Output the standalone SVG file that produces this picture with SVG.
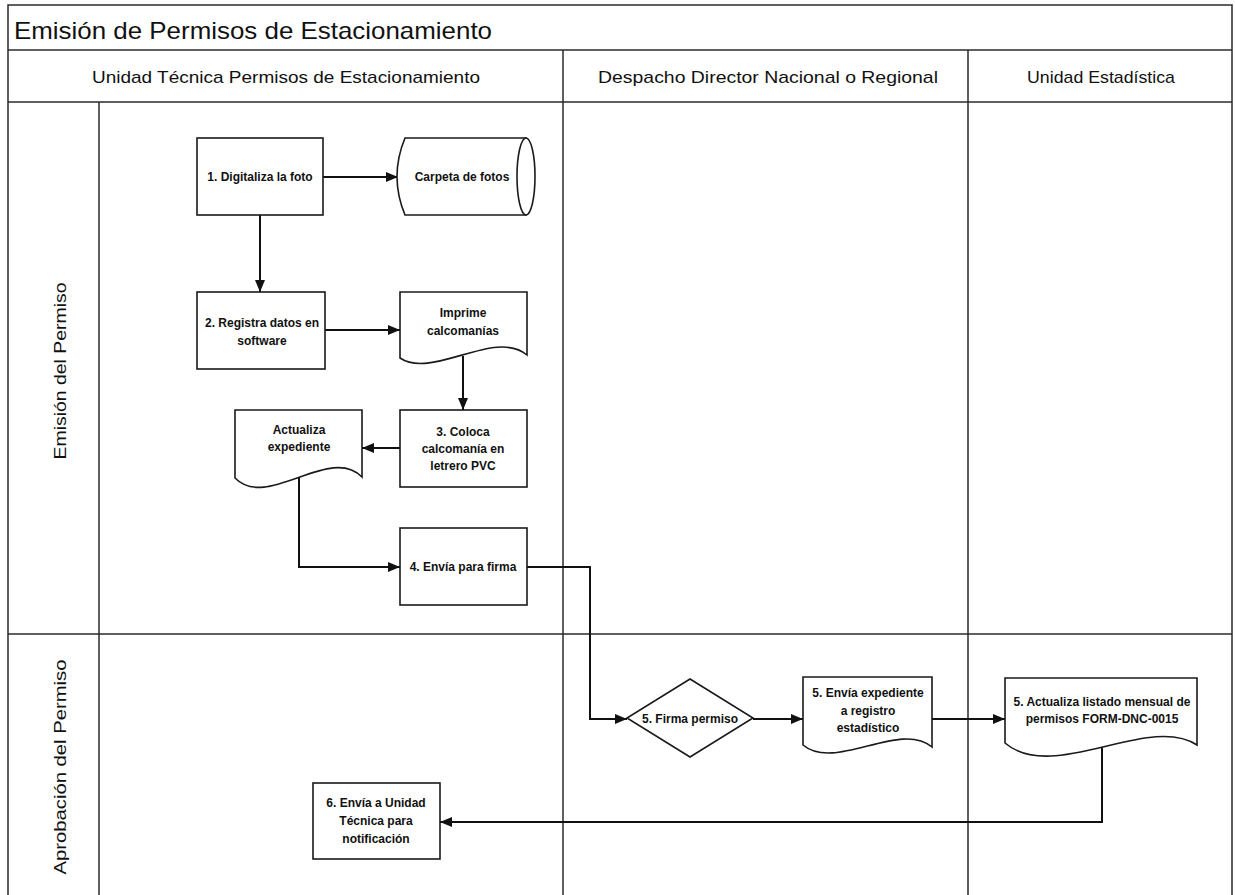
<svg xmlns="http://www.w3.org/2000/svg" width="1235" height="895" viewBox="0 0 1235 895">
<style>
.frame{fill:none;stroke:#2a2a2a;stroke-width:1.5}
.shape{fill:#fff;stroke:#1a1a1a;stroke-width:1.6}
.conn{fill:none;stroke:#111;stroke-width:2}
.t{font-family:"Liberation Sans",Arial,sans-serif;font-size:12px;font-weight:bold;fill:#111;text-anchor:middle}
.hdr{font-family:"Liberation Sans",Arial,sans-serif;font-size:17px;fill:#111;text-anchor:middle}
.lane{font-family:"Liberation Sans",Arial,sans-serif;font-size:16px;fill:#111;text-anchor:middle}
</style>
<defs>
<marker id="arr" markerUnits="userSpaceOnUse" markerWidth="12" markerHeight="10" refX="12" refY="5" orient="auto">
<path d="M0,0 L12,5 L0,10 Z" fill="#111"/>
</marker>
</defs>
<rect width="1235" height="895" fill="#fff"/>
<g id="pool">
<rect class="frame" x="8" y="5" width="1224" height="900"/>
<line class="frame" x1="8" y1="50" x2="1232" y2="50"/>
<line class="frame" x1="8" y1="102" x2="1232" y2="102"/>
<line class="frame" x1="563" y1="50" x2="563" y2="895"/>
<line class="frame" x1="968" y1="50" x2="968" y2="895"/>
<line class="frame" x1="99" y1="102" x2="99" y2="895"/>
<line class="frame" x1="8" y1="634" x2="1232" y2="634"/>
<text x="14" y="39" font-family="Liberation Sans,Arial,sans-serif" font-size="24" fill="#111" textLength="478" lengthAdjust="spacingAndGlyphs">Emisión de Permisos de Estacionamiento</text>
<text class="hdr" x="286" y="83" textLength="388" lengthAdjust="spacingAndGlyphs">Unidad Técnica Permisos de Estacionamiento</text>
<text class="hdr" x="768" y="83" textLength="340" lengthAdjust="spacingAndGlyphs">Despacho Director Nacional o Regional</text>
<text class="hdr" x="1101" y="83" textLength="148" lengthAdjust="spacingAndGlyphs">Unidad Estadística</text>
<text class="lane" transform="translate(66,371) rotate(-90)" textLength="177" lengthAdjust="spacingAndGlyphs">Emisión del Permiso</text>
<text class="lane" transform="translate(66,767) rotate(-90)" textLength="215" lengthAdjust="spacingAndGlyphs">Aprobación del Permiso</text>
</g>
<g id="connectors">
<line class="conn" x1="323" y1="177" x2="398" y2="177" marker-end="url(#arr)"/>
<line class="conn" x1="260" y1="215" x2="260" y2="292" marker-end="url(#arr)"/>
<line class="conn" x1="325" y1="330" x2="400" y2="330" marker-end="url(#arr)"/>
<line class="conn" x1="463" y1="356" x2="463" y2="410" marker-end="url(#arr)"/>
<line class="conn" x1="400" y1="448" x2="362" y2="448" marker-end="url(#arr)"/>
<polyline class="conn" points="299,478 299,567 400,567" marker-end="url(#arr)"/>
<polyline class="conn" points="527,567 590,567 590,719 627,719" marker-end="url(#arr)"/>
<line class="conn" x1="753" y1="719" x2="803" y2="719" marker-end="url(#arr)"/>
<line class="conn" x1="932" y1="719" x2="1005" y2="719" marker-end="url(#arr)"/>
<polyline class="conn" points="1102,746 1102,822 440,822" marker-end="url(#arr)"/>
</g>
<g id="n1">
<rect class="shape" x="197" y="138" width="126" height="77"/>
<text class="t" x="260" y="181">1. Digitaliza la foto</text>
</g>
<g id="carpeta">
<path class="shape" d="M405,138 H526 V215 H405 Q389,176.5 405,138 Z"/>
<ellipse class="shape" cx="526" cy="176.5" rx="9" ry="38.5"/>
<text class="t" x="462" y="181">Carpeta de fotos</text>
</g>
<g id="n2">
<rect class="shape" x="197" y="292" width="128" height="77"/>
<text class="t" x="262" y="327">2. Registra datos en</text>
<text class="t" x="262" y="345">software</text>
</g>
<g id="imprime">
<path class="shape" d="M400,292 H527 V355 C495,328 432,380 400,358 Z"/>
<text class="t" x="463" y="317">Imprime</text>
<text class="t" x="463" y="335">calcomanías</text>
</g>
<g id="n3">
<rect class="shape" x="400" y="410" width="127" height="77"/>
<text class="t" x="463" y="436">3. Coloca</text>
<text class="t" x="463" y="453">calcomanía en</text>
<text class="t" x="463" y="470">letrero PVC</text>
</g>
<g id="actualiza">
<path class="shape" d="M235,410 H362 V477 C330,444 267,511 235,478 Z"/>
<text class="t" x="299" y="434">Actualiza</text>
<text class="t" x="299" y="451">expediente</text>
</g>
<g id="n4">
<rect class="shape" x="400" y="528" width="127" height="77"/>
<text class="t" x="463" y="571">4. Envía para firma</text>
</g>
<g id="n5firma">
<polygon class="shape" points="690,679 753,718 690,757 627,718"/>
<text class="t" x="690" y="723">5. Firma permiso</text>
</g>
<g id="n5envia">
<path class="shape" d="M803,677 H932 V747 C900,720 835,772 803,745 Z"/>
<text class="t" x="868" y="697">5.  Envía expediente</text>
<text class="t" x="868" y="715">a registro</text>
<text class="t" x="868" y="732">estadístico</text>
</g>
<g id="n5listado">
<path class="shape" d="M1005,678 H1197 V745 C1149,713 1053,784 1005,743 Z"/>
<text class="t" x="1102" y="706">5. Actualiza listado mensual de</text>
<text class="t" x="1102" y="723">permisos FORM-DNC-0015</text>
</g>
<g id="n6">
<rect class="shape" x="313" y="783" width="127" height="76"/>
<text class="t" x="376" y="807">6. Envía a Unidad</text>
<text class="t" x="376" y="825">Técnica para</text>
<text class="t" x="376" y="843">notificación</text>
</g>
</svg>
